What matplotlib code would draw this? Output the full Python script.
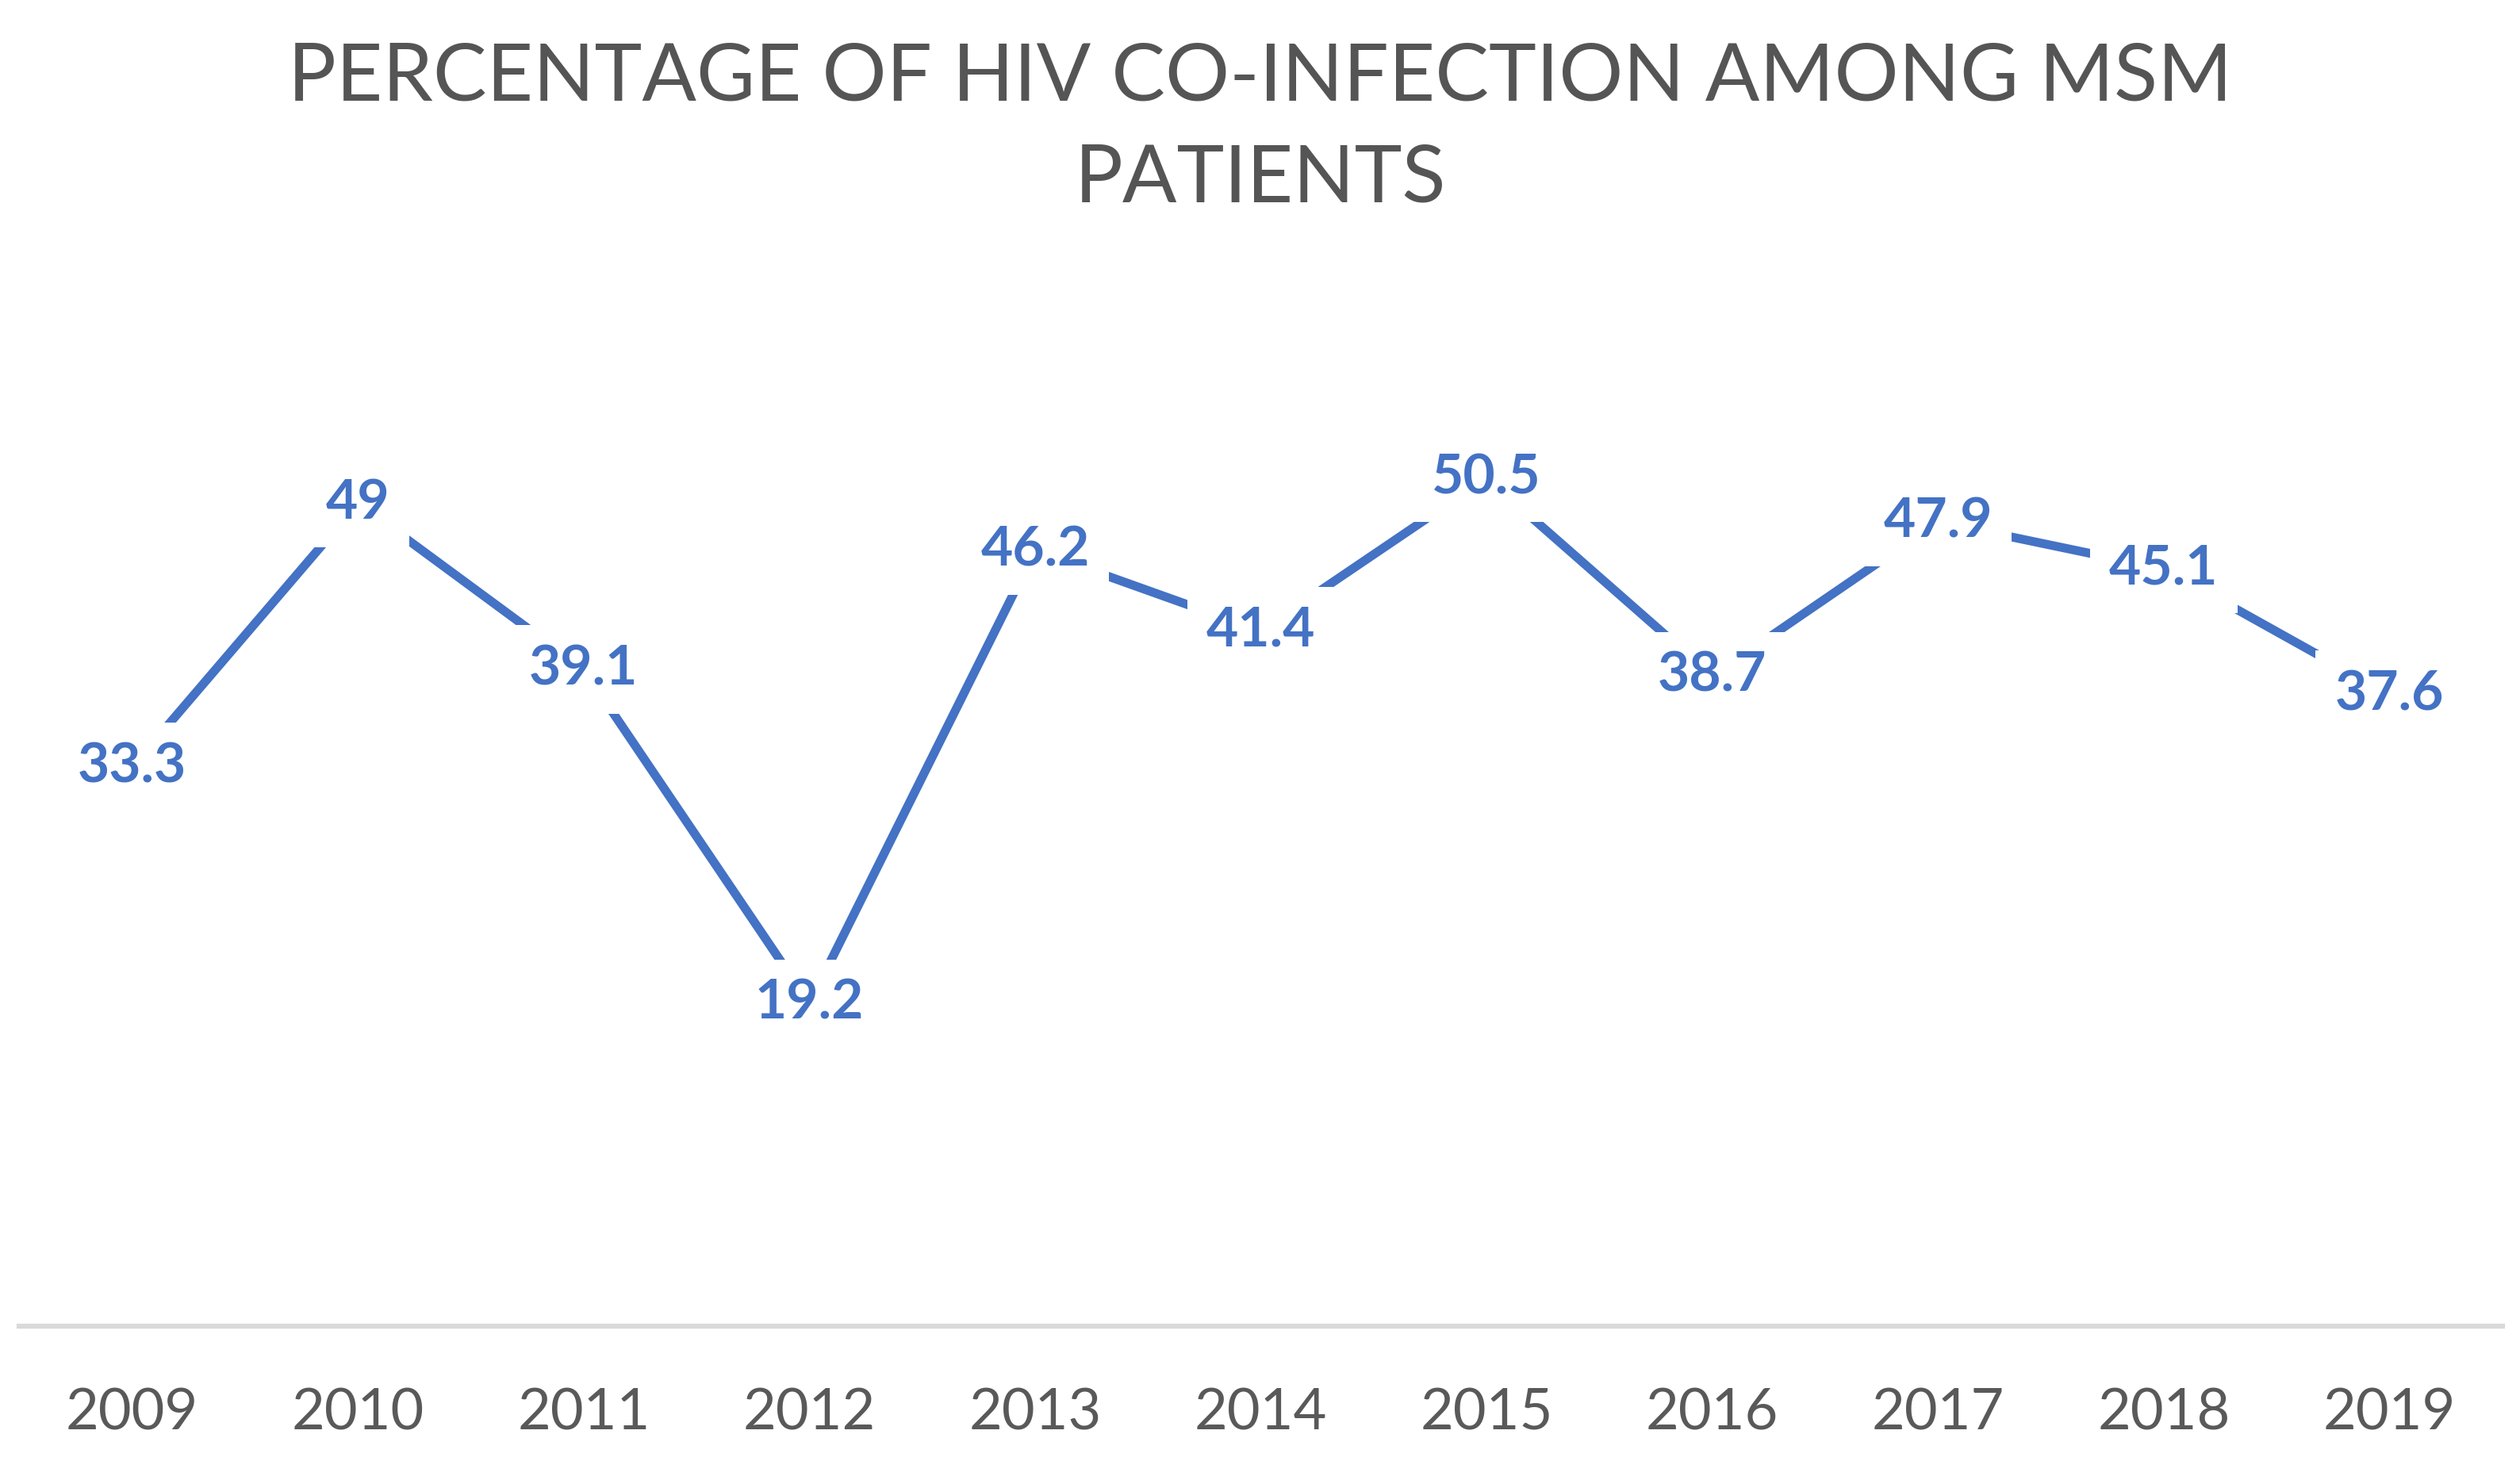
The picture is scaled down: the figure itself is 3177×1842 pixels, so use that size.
import matplotlib.pyplot as plt

years = ['2009', '2010', '2011', '2012', '2013', '2014', '2015', '2016', '2017', '2018', '2019']
values = [33.3, 49, 39.1, 19.2, 46.2, 41.4, 50.5, 38.7, 47.9, 45.1, 37.6]
labels = ['33.3', '49', '39.1', '19.2', '46.2', '41.4', '50.5', '38.7', '47.9', '45.1', '37.6']

plt.rcParams['font.family'] = ['Lato', 'DejaVu Sans']

fig = plt.figure(figsize=(31.77, 18.42), dpi=100)
ax = fig.add_axes([0.0077, 0.0924, 0.9853, 0.6896])

x = list(range(len(years)))
ax.plot(x, values, color='#4472C4', linewidth=8, solid_capstyle='butt', zorder=2)

# labels sit on the points, white box hides the line under them
for xi, v, lab in zip(x, values, labels):
    ax.text(xi, v, lab, ha='center', va='center', fontsize=50, fontweight='bold',
            color='#4472C4', zorder=3,
            bbox=dict(boxstyle='square,pad=0.35', facecolor='white', edgecolor='none'))

ax.set_xlim(-0.5, len(years) - 0.5)
ax.set_ylim(0, 60)
ax.set_xticks(x)
ax.set_xticklabels(years, fontsize=52, color='#595959')
ax.set_yticks([])
ax.tick_params(axis='x', length=0, pad=56)

for s in ['top', 'right', 'left']:
    ax.spines[s].set_visible(False)
ax.spines['bottom'].set_color('#D9D9D9')
ax.spines['bottom'].set_linewidth(4.5)

fig.text(0.5, 0.912, 'PERCENTAGE OF HIV CO-INFECTION AMONG MSM\nPATIENTS', ha='center', va='center',
         fontsize=73, color='#555555', linespacing=1.5)

fig.savefig('out.png', dpi=100, facecolor='white')
